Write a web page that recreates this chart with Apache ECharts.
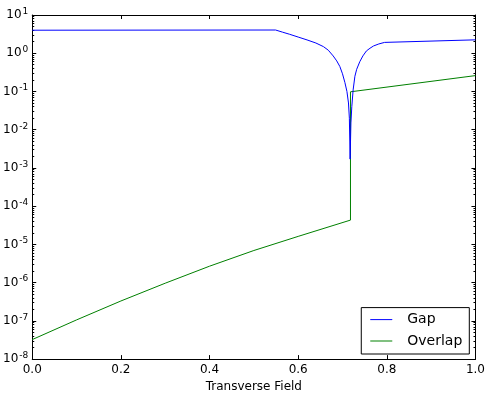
<!DOCTYPE html>
<html><head><meta charset="utf-8">
<script src="https://cdn.jsdelivr.net/npm/echarts@6/dist/echarts.min.js"></script>
<style>html,body{margin:0;padding:0;background:#fff}#c{width:488px;height:398px}</style>
</head><body><div id="c"></div>
<script>
// Data
const gapX = [0, 0.549, 0.565, 0.58, 0.6, 0.62, 0.64, 0.657, 0.668, 0.679, 0.687, 0.694, 0.70, 0.7055, 0.71, 0.7135, 0.7155, 0.7172, 0.719, 0.721, 0.724, 0.728, 0.732, 0.739, 0.746, 0.754, 0.762, 0.77, 0.782, 0.795, 1.0];
const gapY = [4.0, 4.05, 3.55, 3.15, 2.65, 2.23, 1.85, 1.49, 1.2, 0.85, 0.63, 0.45, 0.29, 0.17, 0.1, 0.05, 0.02, 0.0017, 0.015, 0.04, 0.11, 0.25, 0.38, 0.6, 0.85, 1.15, 1.35, 1.55, 1.75, 1.92, 2.24];
const overlapX = [0, 0.1, 0.2, 0.3, 0.4, 0.5, 0.6, 0.718, 0.718, 1.0];
const overlapY = [3.24e-8, 1.06e-7, 3.31e-7, 9.66e-7, 2.69e-6, 6.92e-6, 1.62e-5, 4.32e-5, 0.098, 0.26];
const xTicks = [0.0, 0.2, 0.4, 0.6, 0.8, 1.0];
const yMin = 1e-8, yMax = 10;
const xTitle = 'Transverse Field';
const seriesNames = ['Gap', 'Overlap'];

const pairs = (xs, ys) => xs.map((x, i) => [x, ys[i]]);
const font = 'DejaVu Sans';
const chart = echarts.init(document.getElementById('c'), null, {renderer: 'canvas'});

const yLabel = v => {
  const e = Math.round(Math.log10(v));
  return '{b|10}{s|' + e + '}';
};
const commonX = {
  type: 'value', min: xTicks[0], max: xTicks[xTicks.length - 1], interval: 0.2,
  splitLine: {show: false},
  axisLine: {show: true, onZero: false, lineStyle: {color: '#000', width: 1}},
  axisTick: {show: true, inside: true, length: 4, lineStyle: {color: '#000'}},
};
const commonY = {
  type: 'log', logBase: 10, min: yMin, max: yMax,
  splitLine: {show: false},
  axisLine: {show: true, onZero: false, lineStyle: {color: '#000', width: 1}},
  axisTick: {show: true, inside: true, length: 4, lineStyle: {color: '#000'}},
  minorTick: {show: true, splitNumber: 9, length: 2, lineStyle: {color: '#000'}},
};

chart.setOption({
  animation: false,
  backgroundColor: '#fff',
  grid: {left: 30, right: 11.5, top: 15, bottom: 37.4, containLabel: false},
  xAxis: [
    Object.assign({}, commonX, {
      position: 'bottom',
      name: xTitle, nameLocation: 'middle', nameGap: 21,
      nameTextStyle: {fontFamily: font, fontSize: 12, color: '#000'},
      axisLabel: {fontFamily: font, fontSize: 12, color: '#000', margin: 5,
        formatter: v => v.toFixed(1)}
    }),
    Object.assign({}, commonX, {position: 'top', axisLabel: {show: false}})
  ],
  yAxis: [
    Object.assign({}, commonY, {
      position: 'left',
      axisLabel: {fontFamily: font, color: '#000', margin: 4, formatter: yLabel,
        rich: {
          b: {fontFamily: font, fontSize: 12, color: '#000'},
          s: {fontFamily: font, fontSize: 9, color: '#000', verticalAlign: 'bottom', padding: [0, 0, 7, 1]}
        }}
    }),
    Object.assign({}, commonY, {position: 'right', axisLabel: {show: false}})
  ],
  legend: {
    show: true, orient: 'vertical', right: 18.7, bottom: 44,
    itemWidth: 22, itemHeight: 14, itemGap: 7.4,
    icon: 'path://M0,0H22V1H0Z',
    padding: [5, 7, 6, 9],
    borderColor: '#000', borderWidth: 1, borderRadius: 0, backgroundColor: '#fff',
    textStyle: {fontFamily: font, fontSize: 14, color: '#000', padding: [0, 0, 0, 10]},
    data: seriesNames
  },
  series: [
    {name: seriesNames[0], type: 'line', data: pairs(gapX, gapY), symbol: 'none', showSymbol: false,
     lineStyle: {color: '#0000ff', width: 1}, itemStyle: {color: '#0000ff'}, z: 3},
    {name: seriesNames[1], type: 'line', data: pairs(overlapX, overlapY), symbol: 'none', showSymbol: false,
     lineStyle: {color: '#008000', width: 1}, itemStyle: {color: '#008000'}, z: 2}
  ]
});
</script></body></html>
